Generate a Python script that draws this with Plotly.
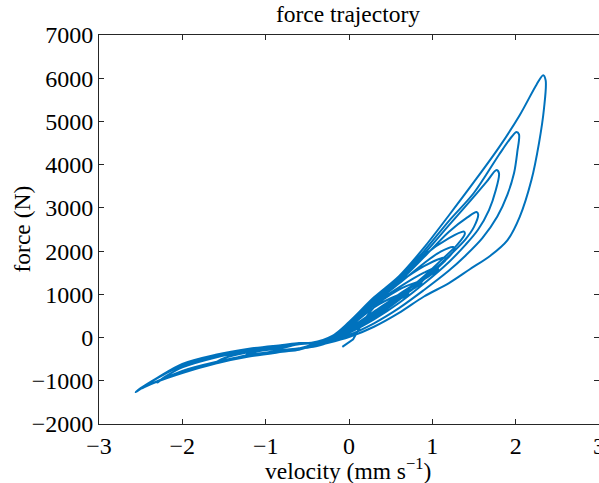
import plotly.graph_objects as go

# ---- data (velocity in mm/s, force in N) ----
start_v = [-0.08, 0.05]
start_F = [-215, -40]

# positive-velocity excursions: rising branch, peak, falling branch
G_v = [0.05, 0.3, 0.6, 0.8, 0.86, 0.87, 0.8, 0.6, 0.3, 0.0, -0.3, -0.45]
G_F = [-40, 700, 1110, 1270, 1300, 1260, 1160, 950, 560, 190, -90, -175]

I3_v = [-0.45, -0.2, 0.0, 0.3, 0.6, 0.7, 0.71, 0.6, 0.3, 0.0, -0.3, -0.45]
I3_F = [-130, -30, 230, 700, 990, 1050, 1000, 880, 450, 120, -100, -180]

H_v = [-0.45, -0.2, 0.0, 0.3, 0.6, 0.9, 1.05, 1.07, 1.0, 0.8, 0.6, 0.3, 0.0, -0.3, -0.45]
H_F = [-130, -20, 240, 760, 1160, 1500, 1620, 1580, 1470, 1230, 990, 600, 210, -85, -170]

I1_v = [-0.45, -0.2, 0.0, 0.3, 0.6, 0.9, 1.1, 1.15, 1.16, 1.1, 0.9, 0.6, 0.3, 0.0, -0.3, -0.45]
I1_F = [-125, -5, 270, 800, 1270, 1650, 1830, 1850, 1800, 1680, 1350, 870, 460, 140, -95, -175]

E_v = [-0.45, -0.2, 0.0, 0.3, 0.6, 0.9, 1.1, 1.25, 1.27, 1.2, 1.05, 0.85, 0.6, 0.3, 0.0, -0.3, -0.45]
E_F = [-130, -10, 260, 790, 1250, 1720, 1990, 2095, 2050, 1870, 1620, 1320, 1000, 580, 190, -80, -170]

I2_v = [-0.45, -0.2, 0.0, 0.3, 0.6, 0.9, 1.2, 1.38, 1.39, 1.3, 1.1, 0.9, 0.6, 0.3, 0.0, -0.3, -0.45]
I2_F = [-125, 5, 290, 840, 1310, 1900, 2300, 2450, 2400, 2150, 1780, 1420, 940, 530, 170, -85, -170]

D_v = [-0.45, -0.2, 0.0, 0.3, 0.6, 0.9, 1.2, 1.42, 1.53, 1.55, 1.5, 1.4, 1.25, 1.05, 0.8, 0.6, 0.3, 0.0, -0.3, -0.45]
D_F = [-125, 0, 280, 820, 1290, 1860, 2450, 2780, 2905, 2850, 2560, 2280, 1980, 1620, 1170, 900, 500, 150, -90, -180]

C_v = [-0.45, -0.2, 0.0, 0.3, 0.6, 0.9, 1.2, 1.45, 1.65, 1.77, 1.8, 1.76, 1.68, 1.55, 1.4, 1.2, 0.9, 0.6, 0.3, 0.0, -0.3, -0.45]
C_F = [-125, 10, 300, 850, 1330, 1930, 2600, 3150, 3600, 3877, 3800, 3400, 2950, 2500, 2150, 1750, 1250, 800, 420, 110, -100, -190]

B_v = [-0.45, -0.2, 0.0, 0.3, 0.6, 0.9, 1.2, 1.5, 1.8, 1.95, 2.01, 2.04, 2.02, 1.98, 1.9, 1.78, 1.6, 1.4, 1.2, 0.9, 0.6, 0.3, 0.0, -0.3, -0.45]
B_F = [-120, 20, 320, 880, 1370, 2000, 2700, 3350, 4230, 4640, 4757, 4700, 4300, 3800, 3300, 2800, 2300, 1900, 1550, 1100, 680, 330, 60, -120, -200]

A_v = [-0.45, -0.2, 0.0, 0.3, 0.6, 0.9, 1.2, 1.5, 1.8, 2.05, 2.25, 2.33, 2.36, 2.34, 2.28, 2.19, 2.05, 1.9, 1.7, 1.45, 1.2, 0.9, 0.6, 0.3, 0.0, -0.3, -0.45]
A_F = [-120, 40, 360, 930, 1420, 2080, 2830, 3600, 4400, 5150, 5850, 6070, 5950, 5300, 4500, 3650, 2800, 2250, 1900, 1580, 1260, 950, 570, 250, 10, -150, -220]

# negative-velocity excursions: outgoing (lower) branch, tip, returning (upper) branch
N4_v = [-0.6, -0.8, -1.1, -1.25, -1.1, -0.8, -0.6]
N4_F = [-250, -290, -380, -420, -320, -240, -150]

N3_v = [-0.6, -0.8, -1.2, -1.5, -1.62, -1.5, -1.2, -0.8, -0.6]
N3_F = [-255, -300, -400, -540, -600, -480, -335, -225, -155]

N2_v = [-0.6, -0.8, -1.2, -1.6, -2.0, -2.25, -2.3, -2.2, -2.0, -1.6, -1.2, -0.8, -0.6]
N2_F = [-260, -305, -410, -565, -770, -980, -1040, -900, -690, -460, -310, -210, -145]

N1_v = [-0.6, -0.8, -1.2, -1.6, -2.0, -2.3, -2.5, -2.56, -2.5, -2.3, -2.0, -1.6, -1.2, -0.8, -0.6]
N1_F = [-280, -330, -440, -600, -820, -1020, -1190, -1262, -1170, -930, -610, -400, -260, -170, -125]

N0_v = [-0.6, -0.8, -1.2, -1.6, -2.0, -2.4, -2.5, -2.42, -2.0, -1.6, -1.2, -0.8, -0.6]
N0_F = [-270, -315, -420, -580, -790, -1090, -1190, -1080, -650, -430, -285, -190, -135]

segments = [
    (start_v, start_F), (G_v, G_F), (N4_v, N4_F), (I3_v, I3_F), (N4_v, N4_F),
    (H_v, H_F), (N3_v, N3_F), (I1_v, I1_F), (N3_v, N3_F),
    (E_v, E_F), (N2_v, N2_F), (I2_v, I2_F), (N2_v, N2_F), (D_v, D_F), (N0_v, N0_F), (C_v, C_F),
    (N1_v, N1_F), (B_v, B_F), (N0_v, N0_F), (A_v, A_F), (N2_v, N2_F),
    (E_v, E_F), (N3_v, N3_F), (H_v, H_F),
]

vel, frc = [], []
for sv, sf in segments:
    vel.extend(sv)
    frc.extend(sf)

x_ticks = [-3, -2, -1, 0, 1, 2, 3]
y_ticks = [-2000, -1000, 0, 1000, 2000, 3000, 4000, 5000, 6000, 7000]

FONT = "Liberation Serif, Times New Roman, serif"
L, R, T, B = 99, 0, 35, 59
W, H = 599, 483
PW, PH = W - L - R, H - T - B

fig = go.Figure()
fig.add_trace(go.Scatter(
    x=vel, y=frc, mode="lines",
    line=dict(color="#0072BD", width=2.0, shape="spline", smoothing=0.9),
    showlegend=False, hoverinfo="skip",
))

fig.update_layout(
    width=W, height=H,
    margin=dict(l=L, r=R, t=T, b=B, autoexpand=False),
    paper_bgcolor="white", plot_bgcolor="white",
    font=dict(family=FONT, size=24, color="black"),
    title=dict(text="force trajectory", x=348 / W, xanchor="center", y=1 - 14 / H, yanchor="middle",
               font=dict(family=FONT, size=23.5, color="black")),
    showlegend=False,
    annotations=[
        dict(text="velocity (mm s<sup>−1</sup>)", xref="paper", yref="paper",
             x=(348 - L) / PW, y=-(469 - (T + PH)) / PH, xanchor="center", yanchor="middle",
             showarrow=False, font=dict(family=FONT, size=23.5, color="black")),
        dict(text="force (N)", xref="paper", yref="paper",
             x=-(L - 21) / PW, y=0.5, xanchor="center", yanchor="middle", textangle=-90,
             showarrow=False, font=dict(family=FONT, size=23.5, color="black")),
    ],
)
fig.update_xaxes(
    range=[-3, 3], tickvals=x_ticks, ticks="inside", ticklen=5, tickcolor="#262626",
    showline=True, linecolor="#262626", linewidth=1, mirror="allticks",
    showgrid=False, zeroline=False, automargin=False, ticklabeloverflow="allow",
    tickfont=dict(family=FONT, size=24, color="black"),
)
fig.update_yaxes(
    range=[-2000, 7000], tickvals=y_ticks, ticks="inside", ticklen=5, tickcolor="#262626",
    showline=True, linecolor="#262626", linewidth=1, mirror="allticks",
    showgrid=False, zeroline=False, automargin=False,
    tickfont=dict(family=FONT, size=24, color="black"),
)

fig.write_html("out.html", config={"displayModeBar": False},
               post_script="document.body.style.margin='0';document.body.style.overflow='hidden';")
